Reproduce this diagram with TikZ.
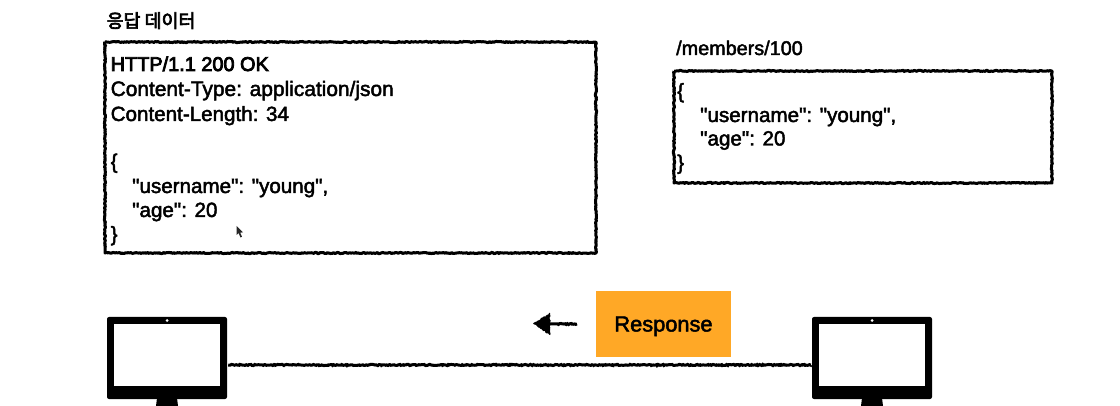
\documentclass[tikz,border=0pt]{standalone}
\usepackage{fontspec}
\setmainfont[Ligatures=TeXOff,FakeBold=2.2]{Liberation Sans}
\newfontfamily\boldish[Ligatures=TeXOff,FakeBold=4]{Liberation Sans}
\newfontfamily\krfont[FakeBold=3.5]{Noto Sans CJK KR}
\usetikzlibrary{decorations.pathmorphing,calc}
\tikzset{
  px/.style={x=1pt,y=-1pt},
  rough/.style={decorate,decoration={random steps,segment length=1.2pt,amplitude=0.6pt}},
  sketchbox/.style={draw=black,line width=3pt,line join=round,rough},
  sketchline/.style={draw=black,line width=3pt,rough},
  txt/.style={anchor=base west,inner sep=0pt,font=\fontsize{20.6pt}{24pt}\selectfont,text=black},
  monitor/.style={fill=black,rounded corners=2pt,draw=none,minimum width=120pt,minimum height=82pt,inner sep=0pt},
  screen/.style={fill=white,draw=none,minimum width=106pt,minimum height=61pt,inner sep=0pt},
  dot/.style={circle,fill=white,draw=none,minimum size=3pt,inner sep=0pt},
  standshape/.style={fill=black,draw=none},
  respbox/.style={fill=respcol,draw=none,minimum width=135pt,minimum height=66pt,inner sep=0pt,font=\fontsize{21.8pt}{26pt}\selectfont},
}
\definecolor{respcol}{HTML}{FFA826}
\begin{document}
\begin{tikzpicture}[px]
\pgfmathsetseed{11}
\useasboundingbox (0,0) rectangle (1120,406);
% boxes
\coordinate (b1nw) at (105,42); \coordinate (b1se) at (596,253);
\coordinate (b2nw) at (674,71); \coordinate (b2se) at (1052,183);
\draw[sketchbox] (b1nw) -- (b1se |- b1nw) -- (b1se) -- (b1nw |- b1se) -- (b1nw);
\draw[sketchbox] (b2nw) -- (b2se |- b2nw) -- (b2se) -- (b2nw |- b2se) -- (b2nw);
% titles
\node[txt,font=\krfont\fontsize{18.4pt}{22pt}\selectfont] (title1) at (106.5,27.5) {응답 데이터};
\node[txt,font=\fontsize{19.8pt}{24pt}\selectfont] (title2) at (676,55) {/members/100};
% left text
\node[txt,font=\boldish\fontsize{19.9pt}{24pt}\selectfont] (l1) at (110.5,71) {HTTP/1.1 200 OK};
\node[txt,font=\fontsize{20.9pt}{24pt}\selectfont] (l2) at (110.5,96) {Content-Type: application/json};
\node[txt] (l3) at (110.5,121) {Content-Length: 34};
\node[txt] (l4) at (110.5,168.5) {\{};
\node[txt] (l5) at (132,193) {"username": "young",};
\node[txt] (l6) at (132,217) {"age": 20};
\node[txt] (l7) at (110.5,241) {\}};
% right text
\node[txt] (r1) at (677,98) {\{};
\node[txt] (r2) at (700,122) {"username": "young",};
\node[txt] (r3) at (700,145.5) {"age": 20};
\node[txt] (r4) at (677,169.5) {\}};
% cursor
\fill[black!85] (236.5,226) -- (236.5,235) -- (238.6,233) -- (240.4,237.5) -- (242,236.8) -- (240.2,232.6) -- (243,232.4) -- cycle;
% monitors
\path[standshape,fill=black] (157,398) -- (177,398) -- (178,406) -- (156,406) -- cycle;
\path[standshape,fill=black] (862,398) -- (882,398) -- (883,406) -- (861,406) -- cycle;
\node[monitor] (mL) at (167,358) {};
\node[screen] (sL) at (167,355) {};
\node[dot] (cL) at (167,320.5) {};
\node[monitor] (mR) at (872,358) {};
\node[screen] (sR) at (872,355) {};
\node[dot] (cR) at (872,320.5) {};
% connector
\draw[sketchline] ($(mL.east)+(1,7)$) -- ($(mR.west)+(-1,7)$);
% response
\node[respbox] (resp) at (663.5,324) {\raisebox{-7.5pt}[0pt][0pt]{Response}};
\coordinate (arrS) at (577,324);
\coordinate (arrE) at (545,324);
\draw[sketchline] (arrS) -- (arrE);
\fill[black,rough] (533,323.5) -- (550,313) -- (550,335) -- cycle;
\end{tikzpicture}
\end{document}
